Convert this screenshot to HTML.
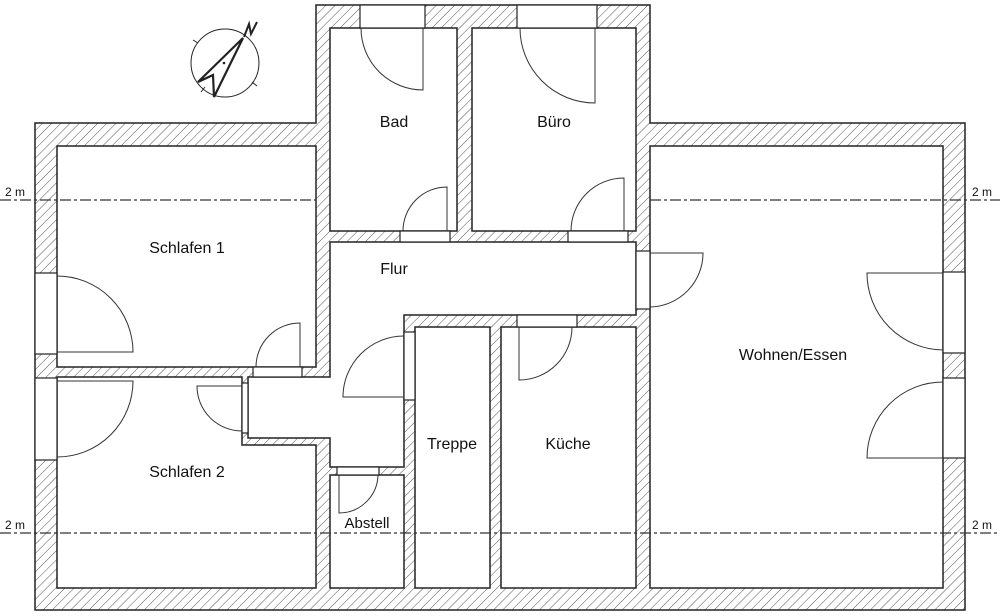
<!DOCTYPE html>
<html><head><meta charset="utf-8"><style>
html,body{margin:0;padding:0;background:#fff;}
svg{display:block;}
text{font-family:"Liberation Sans",sans-serif;font-size:16px;fill:#111;}
</style></head><body>
<svg width="1000" height="616" viewBox="0 0 1000 616" xmlns="http://www.w3.org/2000/svg">
<defs>
<pattern id="h" patternUnits="userSpaceOnUse" width="6.5" height="6.5" patternTransform="rotate(45)">
<rect width="6.5" height="6.5" fill="#fff"/>
<line x1="0" y1="0" x2="0" y2="6.5" stroke="#555" stroke-width="1"/>
</pattern>
</defs>
<polygon points="35,123 316,123 316,5 650,5 650,123 965,123 965,610 35,610" fill="url(#h)" stroke="#222" stroke-width="1.5"/>
<g fill="#fff" stroke="#222" stroke-width="1.5">
<rect x="57" y="146" width="259" height="221"/>
<polygon points="57,377 242,377 242,445 316,445 316,588 57,588"/>
<rect x="330" y="28" width="127" height="203"/>
<rect x="472" y="28" width="164" height="203"/>
<polygon points="330,242 636,242 636,315 404,315 404,467 330,467 330,438 248,438 248,377 330,377"/>
<rect x="330" y="475" width="74" height="113"/>
<rect x="415" y="327" width="75" height="261"/>
<rect x="501" y="327" width="135" height="261"/>
<rect x="650" y="146" width="293" height="442"/>
</g>
<g fill="#fff" stroke="#222" stroke-width="1.2">
<rect x="360" y="5" width="65" height="23"/>
<rect x="517" y="5" width="80" height="23"/>
<rect x="400" y="231" width="50" height="11"/>
<rect x="568" y="231" width="60" height="11"/>
<rect x="636" y="251" width="14" height="58"/>
<rect x="517" y="315" width="60" height="12"/>
<rect x="404" y="332" width="11" height="68"/>
<rect x="337" y="467" width="42" height="8"/>
<rect x="253" y="367" width="49" height="10"/>
<rect x="35" y="273" width="22" height="81"/>
<rect x="35" y="378" width="22" height="82"/>
<rect x="242" y="383" width="6" height="50"/>
<rect x="943" y="272" width="22" height="81"/>
<rect x="943" y="378" width="22" height="80"/>
</g>
<g fill="none" stroke="#333" stroke-width="1">
<path d="M423,28 V90 A62,62 0 0 1 361,28"/>
<path d="M595,28 V103 A75,75 0 0 1 520,28"/>
<path d="M447,231 V187 A44,44 0 0 0 403,231"/>
<path d="M624,231 V178 A53,53 0 0 0 571,231"/>
<path d="M650,253 H703 A54,54 0 0 1 650,307"/>
<path d="M519,327 V380 A53,53 0 0 0 572,327"/>
<path d="M404,397 H343 A61,61 0 0 1 404,336"/>
<path d="M339,475 V513 A39,39 0 0 0 378,475"/>
<path d="M300,367 V323 A44,44 0 0 0 256,367"/>
<path d="M57,352 H133 A76,76 0 0 0 57,276"/>
<path d="M57,381 H133 A76,76 0 0 1 57,457"/>
<path d="M242,386 H197 A45,45 0 0 0 242,431"/>
<path d="M943,273 H867 A77,77 0 0 0 943,350"/>
<path d="M943,458 H867 A76,76 0 0 1 943,382"/>
</g>
<g stroke="#333" stroke-width="1.2" stroke-dasharray="11 3 3 3" fill="none">
<line x1="0" y1="200" x2="316" y2="200"/>
<line x1="650" y1="200" x2="1000" y2="200"/>
<line x1="0" y1="533" x2="1000" y2="533"/>
</g>
<text x="5" y="196" style="font-size:12px">2 m</text>
<text x="972" y="196" style="font-size:12px">2 m</text>
<text x="5" y="529" style="font-size:12px">2 m</text>
<text x="972" y="529" style="font-size:12px">2 m</text>
<text x="394" y="127" text-anchor="middle">Bad</text>
<text x="554" y="127" text-anchor="middle">Büro</text>
<text x="394" y="274" text-anchor="middle">Flur</text>
<text x="187" y="253" text-anchor="middle">Schlafen 1</text>
<text x="187" y="477" text-anchor="middle">Schlafen 2</text>
<text x="367" y="528" text-anchor="middle" style="font-size:15px">Abstell</text>
<text x="452" y="449" text-anchor="middle">Treppe</text>
<text x="568" y="449" text-anchor="middle">Küche</text>
<text x="793" y="360" text-anchor="middle">Wohnen/Essen</text>
<g fill="none" stroke="#222">
<circle cx="225" cy="63" r="34" stroke-width="1"/>
<line x1="193" y1="40" x2="198" y2="43" stroke-width="1"/>
<line x1="252" y1="82" x2="257" y2="86" stroke-width="1"/>
<line x1="201" y1="92" x2="205" y2="87" stroke-width="1"/>
<polygon points="243,38 198,82 213,75 214,97" stroke-width="2.2" fill="#fff"/>
<polyline points="244,37 249,24 251,34 257,22" stroke-width="2"/>
</g>
<circle cx="224" cy="63" r="1.3" fill="#222"/>
</svg>
</body></html>
